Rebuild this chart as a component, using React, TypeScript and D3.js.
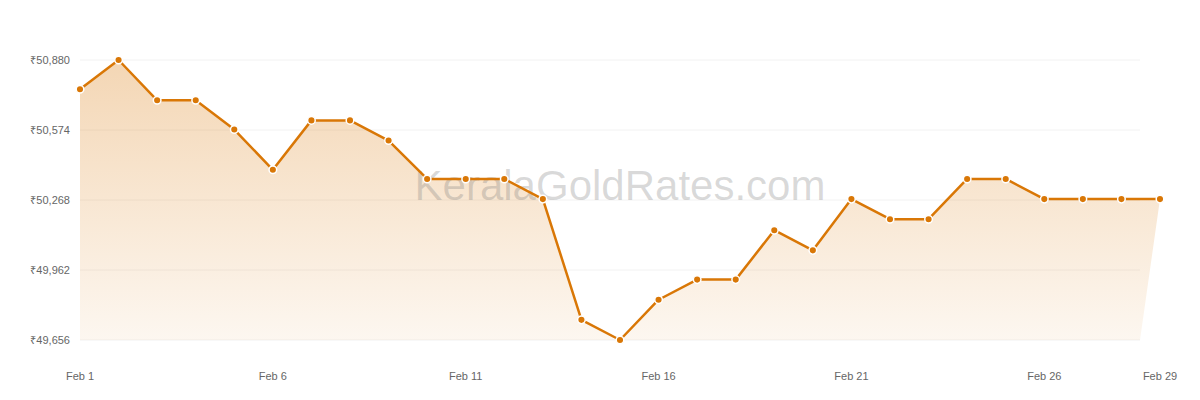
import React, { useRef, useEffect } from 'react';
import * as d3 from 'd3';

// 24K gold, price per 8 g, Feb 2024
const days = d3.range(1, 30);
const prices = [
  50752, 50880, 50704, 50704, 50576, 50400, 50616, 50616, 50528, 50360,
  50360, 50360, 50272, 49744, 49656, 49832, 49920, 49920, 50136, 50048,
  50272, 50184, 50184, 50360, 50360, 50272, 50272, 50272, 50272,
];
const tickDays = [1, 6, 11, 16, 21, 26, 29];
const yTicks = [49656, 49962, 50268, 50574, 50880];

const W = 1200;
const H = 400;

const GoldChart: React.FC = () => {
  const svgRef = useRef<SVGSVGElement>(null);

  useEffect(() => {
    if (!svgRef.current) return;
    const svg = d3.select(svgRef.current);
    svg.selectAll('*').remove();

    const data = days.map((d, i) => ({ date: new Date(2024, 1, d), price: prices[i] }));
    const color = '#d97706';

    const x = d3.scaleTime()
      .domain([new Date(2024, 1, 1), new Date(2024, 1, 29)])
      .range([80, 1160]);
    // the fill closes at the grid's right edge, not at the last point
    const xBase = x.copy().range([80, 1140]);
    const y = d3.scaleLinear()
      .domain([d3.min(prices) as number, d3.max(prices) as number])
      .range([340, 60]);

    const defs = svg.append('defs');
    const grad = defs.append('linearGradient')
      .attr('id', 'goldFill')
      .attr('gradientUnits', 'userSpaceOnUse')
      .attr('x1', 0).attr('x2', 0)
      .attr('y1', y.range()[1]).attr('y2', y.range()[0]);
    grad.append('stop').attr('offset', '0%').attr('stop-color', color).attr('stop-opacity', 0.3);
    grad.append('stop').attr('offset', '100%').attr('stop-color', color).attr('stop-opacity', 0.06);

    // gridlines + y labels
    const grid = svg.append('g');
    yTicks.forEach((t) => {
      grid.append('line')
        .attr('x1', 80).attr('x2', 1140)
        .attr('y1', y(t)).attr('y2', y(t))
        .attr('stroke', '#f2f2f2')
        .attr('stroke-width', 1);
      grid.append('text')
        .attr('x', 70)
        .attr('y', y(t))
        .attr('dy', '0.35em')
        .attr('text-anchor', 'end')
        .attr('fill', '#666')
        .style('font-size', '11px')
        .text('₹' + d3.format(',')(t));
    });

    // x labels
    svg.append('g')
      .selectAll('text')
      .data(tickDays)
      .join('text')
      .attr('x', (d) => x(new Date(2024, 1, d)))
      .attr('y', 376)
      .attr('dy', '0.35em')
      .attr('text-anchor', 'middle')
      .attr('fill', '#666')
      .style('font-size', '11px')
      .text((d) => `Feb ${d}`);

    const area = d3.area<{ date: Date; price: number }>()
      .x1((d) => x(d.date))
      .x0((d) => xBase(d.date))
      .y1((d) => y(d.price))
      .y0(y.range()[0]);

    svg.append('path')
      .datum(data)
      .attr('fill', 'url(#goldFill)')
      .attr('d', area);

    svg.append('text')
      .attr('x', 620)
      .attr('y', 200)
      .attr('text-anchor', 'middle')
      .attr('fill', 'rgba(120,120,120,0.28)')
      .style('font-size', '42px')
      .text('KeralaGoldRates.com');

    const line = d3.line<{ date: Date; price: number }>()
      .x((d) => x(d.date))
      .y((d) => y(d.price));

    svg.append('path')
      .datum(data)
      .attr('fill', 'none')
      .attr('stroke', color)
      .attr('stroke-width', 2.5)
      .attr('stroke-linejoin', 'round')
      .attr('d', line);

    svg.append('g')
      .selectAll('circle')
      .data(data)
      .join('circle')
      .attr('cx', (d) => x(d.date))
      .attr('cy', (d) => y(d.price))
      .attr('r', 3.8)
      .attr('fill', color)
      .attr('stroke', '#fff')
      .attr('stroke-width', 1.5);
  }, []);

  return (
    <svg
      ref={svgRef}
      width={W}
      height={H}
      style={{ position: 'absolute', left: 0, top: 0, fontFamily: '"Liberation Sans", Arial, sans-serif', background: '#fff' }}
    />
  );
};

export default function App() {
  return <GoldChart />;
}
